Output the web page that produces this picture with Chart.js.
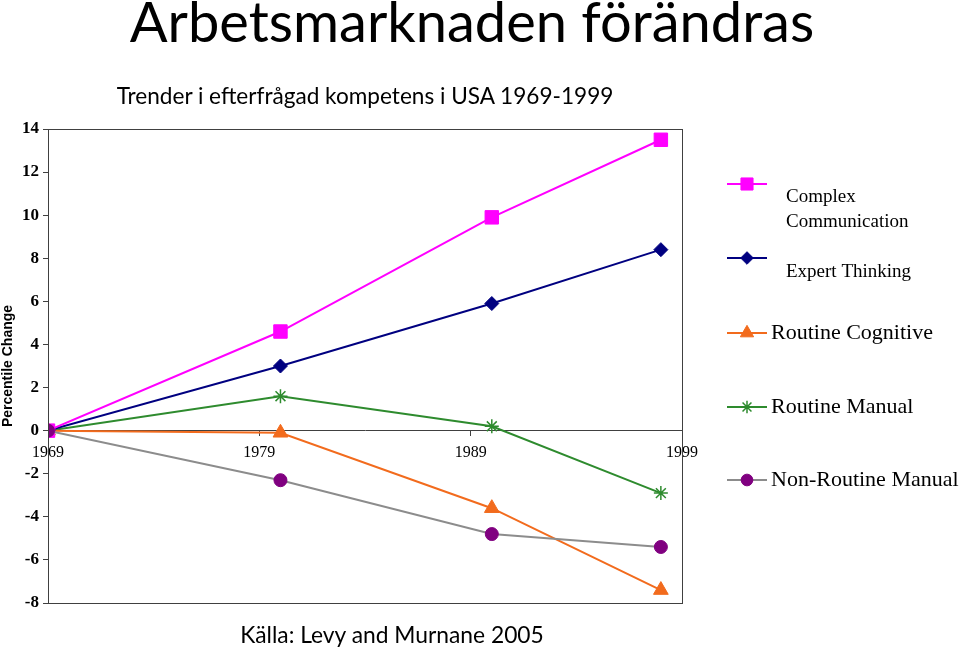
<!DOCTYPE html>
<html>
<head>
<meta charset="utf-8">
<script src="https://cdn.jsdelivr.net/npm/chart.js@4/dist/chart.umd.min.js"></script>
<style>
  body { margin: 0; background: #fff; }
  #wrap { position: relative; width: 959px; height: 650px; overflow: hidden; }
  #chart { position: absolute; left: 0; top: 0; }
  .txt { position: absolute; font-family: Lato, "Open Sans", sans-serif; color: #000; white-space: nowrap; transform: translateX(-50%); }
  #title { left: 472px; top: -13px; font-size: 56px; }
  #subtitle { left: 365px; top: 82px; font-size: 22.6px; }
  #source { left: 392px; top: 620px; font-size: 22.8px; }
</style>
</head>
<body>
<div id="wrap">
  <canvas id="chart" width="959" height="650"></canvas>
  <div class="txt" id="title">Arbetsmarknaden förändras</div>
  <div class="txt" id="subtitle">Trender i efterfrågad kompetens i USA 1969-1999</div>
  <div class="txt" id="source">Källa: Levy and Murnane 2005</div>
</div>
<script>
// data
const years = [1969, 1980, 1990, 1998];
const xTicks = [1969, 1979, 1989, 1999];
const complexCommunication = [0, 4.6, 9.9, 13.5];
const expertThinking = [0, 3.0, 5.9, 8.4];
const routineCognitive = [0, -0.1, -3.6, -7.4];
const routineManual = [0, 1.6, 0.2, -2.9];
const nonRoutineManual = [0, -2.3, -4.8, -5.4];

const seriesNames = ["Complex Communication", "Expert Thinking", "Routine Cognitive", "Routine Manual", "Non-Routine Manual"];
const seriesValues = [complexCommunication, expertThinking, routineCognitive, routineManual, nonRoutineManual];

// look of each series
const seriesStyle = [
  { line: "#ff00ff", fill: "#ff00ff", point: "rect", radius: 9.5 },
  { line: "#000080", fill: "#000080", point: "rectRot", radius: 7 },
  { line: "#f26b1d", fill: "#f26b1d", point: "triangle", radius: 8.5 },
  { line: "#2e8b2e", fill: "#2e8b2e", point: "star", radius: 7 },
  { line: "#8c8c8c", fill: "#800080", point: "circle", radius: 6.5 },
];

// legend rows on the right side
const legendRows = [
  { lineY: 184, textX: 786, textY: [197, 222], size: 19, wrap: true },
  { lineY: 258, textX: 786, textY: [272], size: 19 },
  { lineY: 333, textX: 771, textY: [333], size: 22 },
  { lineY: 407, textX: 771, textY: [407], size: 22 },
  { lineY: 480, textX: 771, textY: [480], size: 22 },
];

const getDatasets = () =>
  seriesNames.map((name, i) => ({
    label: name,
    data: years.map((yr, k) => ({ x: yr, y: seriesValues[i][k] })),
    borderColor: seriesStyle[i].line,
    backgroundColor: seriesStyle[i].fill,
    pointBackgroundColor: seriesStyle[i].fill,
    pointBorderColor: seriesStyle[i].fill,
    pointBorderWidth: seriesStyle[i].point === "star" ? 1.5 : 1,
    pointStyle: seriesStyle[i].point,
    pointRadius: seriesStyle[i].radius,
    borderWidth: 2,
    tension: 0,
    fill: false,
    order: i === 4 ? 0 : i + 1,
  }));

// box round the plot
const frameBox = {
  id: "frameBox",
  afterDraw(chart) {
    const { ctx, chartArea: a } = chart;
    ctx.save();
    ctx.strokeStyle = "#404040";
    ctx.lineWidth = 1;
    ctx.strokeRect(Math.round(a.left) + 0.5, Math.round(a.top) + 0.5, Math.round(a.right - a.left), Math.round(a.bottom - a.top));
    ctx.restore();
  },
};

// legend drawn next to the plot
const sideLegend = {
  id: "sideLegend",
  afterDraw(chart) {
    const ctx = chart.ctx;
    ctx.save();
    chart.data.datasets.forEach((ds, i) => {
      const row = legendRows[i];
      const st = seriesStyle[i];
      ctx.strokeStyle = st.line;
      ctx.lineWidth = 2;
      ctx.beginPath();
      ctx.moveTo(727, row.lineY);
      ctx.lineTo(767, row.lineY);
      ctx.stroke();
      ctx.fillStyle = st.fill;
      ctx.strokeStyle = st.fill;
      ctx.lineWidth = st.point === "star" ? 1.5 : 1;
      Chart.helpers.drawPoint(ctx, { pointStyle: st.point, radius: st.radius * 0.9, rotation: 0, borderWidth: 1 }, 747, row.lineY);
      ctx.fillStyle = "#000";
      ctx.font = row.size + "px 'Liberation Serif'";
      ctx.textBaseline = "middle";
      ctx.textAlign = "left";
      const lines = row.wrap ? ds.label.split(" ") : [ds.label];
      lines.forEach((t, k) => ctx.fillText(t, row.textX, row.textY[k]));
    });
    ctx.restore();
  },
};

new Chart(document.getElementById("chart").getContext("2d"), {
  type: "line",
  data: { datasets: getDatasets() },
  options: {
    responsive: false,
    animation: false,
    events: [],
    layout: { padding: { left: 0, top: 129, right: 277, bottom: 47 } },
    plugins: { legend: { display: false }, tooltip: { enabled: false } },
    scales: {
      x: {
        type: "linear",
        position: { y: 0 },
        min: 1969,
        max: 1999,
        afterFit: (s) => { s.height = 0; },
        afterBuildTicks: (s) => { s.ticks = xTicks.map((v) => ({ value: v })); },
        ticks: {
          callback: (v) => String(v),
          font: { family: "Liberation Serif", size: 16 },
          color: "#000",
          padding: 8,
          maxRotation: 0,
        },
        grid: { drawOnChartArea: false, tickLength: 5, color: "#404040" },
        border: { color: "#404040", width: 1 },
      },
      y: {
        min: -8,
        max: 14,
        afterFit: (s) => { s.width = 48; },
        ticks: {
          stepSize: 2,
          font: { family: "Liberation Serif", size: 17, weight: "bold" },
          color: "#000",
          padding: 4,
        },
        grid: { drawOnChartArea: false, tickLength: 5, color: "#404040" },
        border: { color: "#404040", width: 1 },
        title: {
          display: true,
          text: "Percentile Change",
          font: { family: "Liberation Sans", size: 14, weight: "bold" },
          color: "#000",
          padding: 0,
        },
      },
    },
  },
  plugins: [frameBox, sideLegend],
});
</script>
</body>
</html>
